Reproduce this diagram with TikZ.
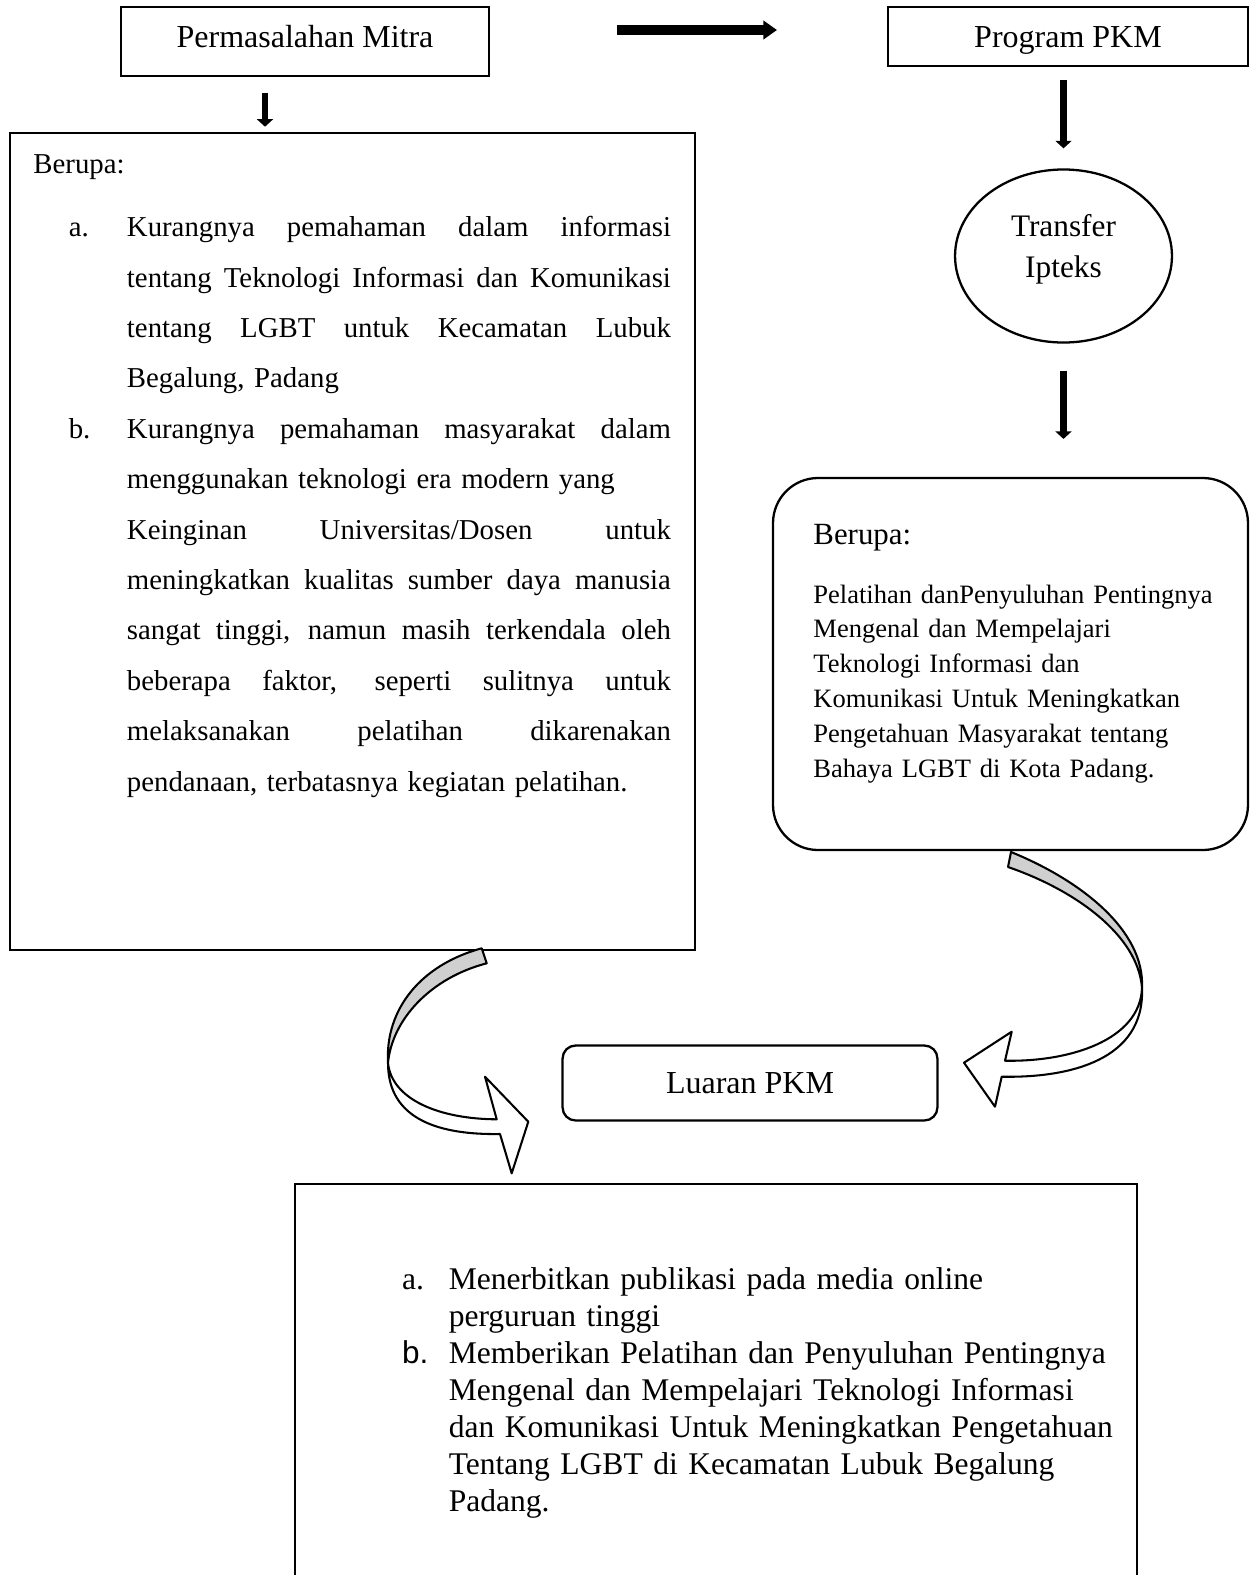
\documentclass[tikz,border=0pt]{standalone}
\usepackage{fontspec}
\setmainfont{Liberation Serif}
\newfontfamily\arialfont{Liberation Sans}
\usepackage{tikz}
\usepackage{xcolor}
\usetikzlibrary{shapes}
\usetikzlibrary{calc}
\usetikzlibrary{positioning, arrows.meta}
\definecolor{ribbongrey}{RGB}{208,208,208}
\newcommand{\jl}[1]{{\spaceskip=0pt\xspaceskip=0pt\makebox[238pt][s]{#1}}}

\begin{document}
\begin{tikzpicture}[x=0.4375pt, y=-0.4375pt,
    box/.style = {draw, line width=1pt, inner sep=0pt, text height=9.5pt, text depth=0pt, font=\fontsize{14}{16}\selectfont},
    bodytext/.style = {anchor=base west, inner sep=0pt},
    fatarrow/.style = {line width=4.4pt, -{Triangle[length=6pt, width=8pt]}},
    thinarrow/.style = {line width=2.9pt, -{Triangle[length=3.3pt, width=7pt]}},
    ribbon/.style = {draw, line width=0.9pt, line join=round}]
                \useasboundingbox (0,0) rectangle (1250,1575);

                % Nodes
                \node[box, text depth=4pt, minimum width=161pt, minimum height=30.2pt] (perm) at (305,41.5) {Permasalahan Mitra};
                \node[box, minimum width=157.5pt, minimum height=25.8pt] (prog) at (1068,36.5) {Program PKM};
                \node[box, minimum width=299.7pt, minimum height=357.4pt] (masalah) at (352.5,541.5) {};
                \node[box, ellipse, minimum width=94.9pt, minimum height=75.7pt] (tell) at (1063.5,256) {};
                \node[box, rounded corners=19.7pt, minimum width=207.8pt, minimum height=162.75pt] (hasil) at (1010.5,664) {};
                \node[box, rounded corners=5.7pt, minimum width=164pt, minimum height=32.8pt] (luaran) at (750,1083) {Luaran PKM};
                \node[box, anchor=north, minimum width=368.4pt, minimum height=196.9pt] (output) at (716,1183) {};

                % Texts
                \node[anchor=base, inner sep=0pt, align=center, text width=100pt, font=\fontsize{13.7}{17.9}\selectfont] (telltext) at (1063.5,236.7) {Transfer\\Ipteks};

                \node[bodytext, font=\fontsize{12.6}{22}\selectfont] (berupaA) at (33,173.3) {Berupa:};
                \node[bodytext, font=\fontsize{12.6}{22}\selectfont] (labA) at (68.3,236.7) {a.};
                \node[bodytext, text width=238pt, font=\fontsize{12.6}{22.05}\selectfont] (itemA) at (126.5,236.7)
                    {\noindent\jl{Kurangnya pemahaman dalam informasi}\\
                     \jl{tentang Teknologi Informasi dan Komunikasi}\\
                     \jl{tentang LGBT untuk Kecamatan Lubuk}\\
                     Begalung, Padang};
                \node[bodytext, font=\fontsize{12.6}{22}\selectfont] (labB) at (68.3,438.3) {b.};
                \node[bodytext, text width=238pt, font=\fontsize{12.6}{22.05}\selectfont] (itemB) at (126.5,438.3)
                    {\noindent\jl{Kurangnya pemahaman masyarakat dalam}\\
                     menggunakan teknologi era modern yang\\
                     \jl{Keinginan Universitas/Dosen untuk}\\
                     \jl{meningkatkan kualitas sumber daya manusia}\\
                     \jl{sangat tinggi, namun masih terkendala oleh}\\
                     \jl{beberapa faktor, seperti sulitnya untuk}\\
                     \jl{melaksanakan pelatihan dikarenakan}\\
                     pendanaan, terbatasnya kegiatan pelatihan.};

                \node[bodytext, font=\fontsize{13.5}{16}\selectfont] (berupaB) at (813,544) {Berupa:};
                \node[bodytext, text width=190pt, font=\fontsize{11.6}{15.3}\selectfont] (itemC) at (813,603)
                    {\noindent Pelatihan danPenyuluhan Pentingnya\\
                     Mengenal dan Mempelajari\\
                     Teknologi Informasi dan\\
                     Komunikasi Untuk Meningkatkan\\
                     Pengetahuan Masyarakat tentang\\
                     Bahaya LGBT di Kota Padang.};

                \node[bodytext, font=\fontsize{13.8}{16.2}\selectfont] (labC) at (401.7,1289) {a.};
                \node[bodytext, text width=320pt, font=\fontsize{13.8}{16.2}\selectfont] (itemD) at (448.3,1289)
                    {\noindent Menerbitkan publikasi pada media online\\
                     perguruan tinggi};
                \node[bodytext, font=\fontsize{13.8}{16.2}\arialfont] (labD) at (401.7,1363) {b.};
                \node[bodytext, text width=320pt, font=\fontsize{13.8}{16.2}\selectfont] (itemE) at (448.3,1363)
                    {\noindent Memberikan Pelatihan dan Penyuluhan Pentingnya\\
                     Mengenal dan Mempelajari Teknologi Informasi\\
                     dan Komunikasi Untuk Meningkatkan Pengetahuan\\
                     Tentang LGBT di Kecamatan Lubuk Begalung\\
                     Padang.};

                % Lines
                \coordinate (flowS) at (617,30);
                \coordinate (flowE) at (777,30);
                \coordinate (downS) at (265,92.7);
                \coordinate (downE) at (265,126.7);
                \draw[fatarrow] (flowS) -- (flowE);
                \draw[thinarrow] (downS) -- (downE);
                \draw[thinarrow, shorten <=5.7pt, shorten >=8.75pt] (tell.north |- prog.south) -- (tell.north);
                \draw[thinarrow, shorten <=11.8pt, shorten >=16.6pt] (tell.south) -- (tell.south |- hasil.north);

                % curved arrows
                \filldraw[ribbon, fill=ribbongrey] (1011,852) -- (1008,867) .. controls (1075,890) and (1138,935) .. (1142,988)
                    .. controls (1145,930) and (1080,880) .. (1011,852) -- cycle;
                \filldraw[ribbon, fill=white] (1142,988) .. controls (1140,1040) and (1070,1062) .. (1005,1060.7)
                    -- (1011.7,1031.7) -- (964,1062.7) -- (995,1106.7) -- (1001.7,1076.7)
                    .. controls (1070,1078) and (1145,1060) .. (1142,988) -- cycle;
                \filldraw[ribbon, fill=ribbongrey] (481.7,948.3) -- (486.7,963.3) .. controls (430,978) and (392,1020) .. (388,1063)
                    .. controls (385,1010) and (420,965) .. (481.7,948.3) -- cycle;
                \filldraw[ribbon, fill=white] (388,1063) .. controls (392,1100) and (440,1119) .. (496.7,1119.3)
                    -- (485,1076.7) -- (528.3,1121.7) -- (511.7,1173.3) -- (500,1134)
                    .. controls (440,1135) and (388,1120) .. (388,1063) -- cycle;
\end{tikzpicture}
\end{document}
